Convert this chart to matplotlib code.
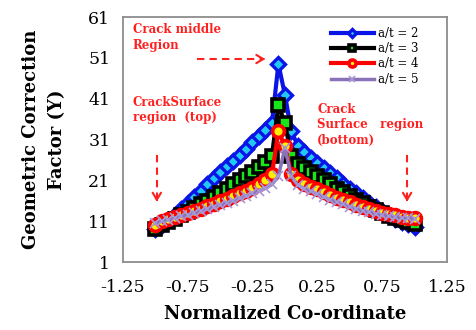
import matplotlib
matplotlib.use("Agg")
import matplotlib.pyplot as plt

plt.rcParams['font.family'] = ['DejaVu Serif']

# Normalized position along the crack front
coord = [-1.00, -0.95, -0.90, -0.85, -0.80, -0.75, -0.70, -0.65, -0.60, -0.55,
         -0.50, -0.45, -0.40, -0.35, -0.30, -0.25, -0.20, -0.15, -0.10, -0.05,
         0.00, 0.05, 0.10, 0.15, 0.20, 0.25, 0.30, 0.35, 0.40, 0.45,
         0.50, 0.55, 0.60, 0.65, 0.70, 0.75, 0.80, 0.85, 0.90, 0.95, 1.00]

# Geometric correction factor Y for each a/t ratio
y_at2 = [9.0, 10.0, 11.2, 12.6, 14.0, 15.5, 17.0, 18.5, 20.0, 21.5,
         23.0, 24.5, 25.8, 27.3, 28.8, 30.3, 31.8, 33.4, 35.0, 49.5,
         42.0, 33.0, 29.5, 28.0, 26.5, 25.2, 24.0, 22.8, 21.5, 20.2,
         19.0, 17.8, 16.6, 15.5, 14.4, 13.4, 12.4, 11.5, 10.8, 10.2, 9.6]
y_at3 = [9.0, 10.0, 10.8, 11.6, 12.4, 13.3, 14.2, 15.1, 16.0, 17.0,
         18.0, 19.0, 20.0, 21.0, 22.0, 23.1, 24.2, 25.4, 27.0, 39.5,
         35.0, 27.0, 25.0, 24.0, 23.0, 22.0, 21.0, 20.0, 19.0, 18.1,
         17.2, 16.3, 15.4, 14.5, 13.7, 13.0, 12.3, 11.7, 11.2, 10.8, 10.4]
y_at4 = [10.0, 11.0, 11.6, 12.1, 12.6, 13.1, 13.6, 14.1, 14.7, 15.3,
         15.9, 16.5, 17.1, 17.8, 18.5, 19.2, 20.0, 21.0, 22.5, 33.0,
         29.5, 22.5, 21.0, 20.2, 19.5, 18.8, 18.1, 17.4, 16.8, 16.2,
         15.6, 15.0, 14.5, 14.0, 13.5, 13.1, 12.7, 12.4, 12.1, 11.9, 11.7]
y_at5 = [10.5, 11.0, 11.4, 11.8, 12.2, 12.6, 13.0, 13.5, 14.0, 14.5,
         15.0, 15.5, 16.0, 16.6, 17.2, 17.8, 18.4, 19.1, 20.0, 22.0,
         29.0, 22.0, 19.8, 19.0, 18.3, 17.6, 16.9, 16.3, 15.7, 15.1,
         14.6, 14.1, 13.6, 13.2, 12.8, 12.5, 12.2, 12.0, 11.8, 11.7, 11.6]

x_ticks = [-1.25, -0.75, -0.25, 0.25, 0.75, 1.25]
y_ticks = [1, 11, 21, 31, 41, 51, 61]

fig = plt.figure(figsize=(4.76, 3.30), dpi=100)
ax = fig.add_axes([0.258, 0.206, 0.681, 0.742])

ax.plot(coord, y_at2, color='#0a14e6', lw=3, marker='D', ms=7,
        mfc='#22c8f5', mec='#0a14e6', mew=2.4, label='a/t = 2')
ax.plot(coord, y_at3, color='black', lw=3, marker='s', ms=8,
        mfc='#19e619', mec='black', mew=2.6, label='a/t = 3')
ax.plot(coord, y_at4, color='#ff0000', lw=3, marker='o', ms=8.5,
        mfc='#ffee00', mec='#ff0000', mew=2.6, label='a/t = 4')
ax.plot(coord, y_at5, color='#8a72b8', lw=2.5, marker='x', ms=7,
        mec='#a898d8', mew=1.2, label='a/t = 5')

ax.set_xlim(-1.25, 1.25)
ax.set_ylim(1, 61)
ax.set_xticks(x_ticks)
ax.set_xticklabels(['-1.25', '-0.75', '-0.25', '0.25', '0.75', '1.25'])
ax.set_yticks(y_ticks)
ax.tick_params(length=0, labelsize=12.5)
ax.tick_params(axis='y', pad=9)
ax.tick_params(axis='x', pad=12)
for s in ax.spines.values():
    s.set_color('#8c8c8c')
    s.set_linewidth(1.3)

ax.set_xlabel('Normalized Co-ordinate', fontsize=13, fontweight='bold', labelpad=7)
ax.set_ylabel('Geometric Correction\nFactor (Y)', fontsize=13, fontweight='bold',
              labelpad=16, linespacing=1.55)

ax.legend(loc='upper right', bbox_to_anchor=(0.935, 0.99), frameon=False,
          fontsize=8.5, handlelength=3.6, labelspacing=0.2, handletextpad=0.4,
          borderaxespad=0.2, markerscale=0.6)

# Region annotations
red = '#ff2020'
ax.text(0.031, 0.975, 'Crack middle\nRegion', transform=ax.transAxes, color=red,
        fontsize=8.5, fontweight='bold', va='top', ha='left', linespacing=1.25)
ax.text(0.031, 0.68, 'CrackSurface\nregion  (top)', transform=ax.transAxes, color=red,
        fontsize=8.5, fontweight='bold', va='top', ha='left', linespacing=1.25)
ax.text(0.6, 0.65, 'Crack\nSurface   region\n(bottom)', transform=ax.transAxes, color=red,
        fontsize=8.5, fontweight='bold', va='top', ha='left', linespacing=1.25)

# Dashed pointers towards each region
dash = dict(color=red, lw=1.5, ls=(0, (3.5, 2.5)), transform=ax.transAxes)
ax.plot([0.228, 0.425], [0.829, 0.829], **dash)
ax.plot([0.105, 0.105], [0.437, 0.26], **dash)
ax.plot([0.877, 0.877], [0.437, 0.26], **dash)
head = dict(arrowstyle='->,head_length=0.5,head_width=0.3', color=red, lw=1.5)
ax.annotate('', xy=(0.448, 0.829), xytext=(0.42, 0.829),
            xycoords='axes fraction', arrowprops=head)
ax.annotate('', xy=(0.105, 0.235), xytext=(0.105, 0.27),
            xycoords='axes fraction', arrowprops=head)
ax.annotate('', xy=(0.877, 0.235), xytext=(0.877, 0.27),
            xycoords='axes fraction', arrowprops=head)

fig.savefig('out.png', dpi=100)
